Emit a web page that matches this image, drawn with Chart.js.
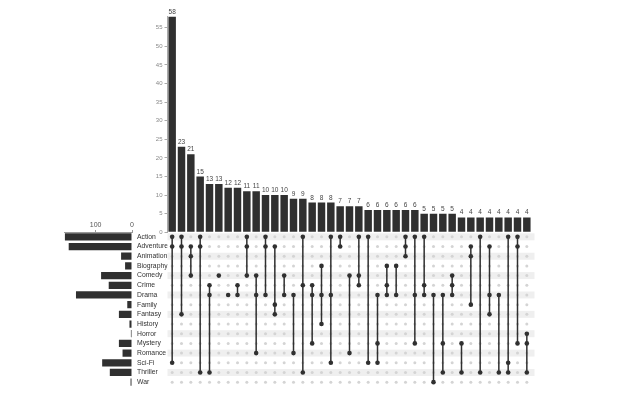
<!DOCTYPE html>
<html><head><meta charset="utf-8">
<script src="https://cdn.jsdelivr.net/npm/chart.js@4/dist/chart.umd.min.js"></script>
<style>
html,body{margin:0;padding:0;background:#fff;}
#wrap{position:relative;width:640px;height:400px;overflow:hidden;background:#fff;}
canvas{position:absolute;}
</style></head><body>
<div id="wrap">
<canvas id="bars" width="410" height="240" style="left:130px;top:0px"></canvas>
<canvas id="matrix" width="404" height="170" style="left:136px;top:225px"></canvas>
<canvas id="sets" width="95" height="180" style="left:40px;top:215px"></canvas>
</div>
<script>
// ---- data ----
const setNames = ["Action","Adventure","Animation","Biography","Comedy","Crime","Drama","Family","Fantasy","History","Horror","Mystery","Romance","Sci-Fi","Thriller","War"];
const setSizes = [185,174,30,19,85,64,154,13,36,7,3,36,26,82,61,4];
const intersectionCounts = [58,23,21,15,13,13,12,12,11,11,10,10,10,9,9,8,8,8,7,7,7,6,6,6,6,6,6,5,5,5,5,4,4,4,4,4,4,4,4];
const intersectionMembers = [
  ["Action","Adventure","Sci-Fi"],
  ["Action","Adventure","Fantasy"],
  ["Adventure","Animation","Comedy"],
  ["Action","Adventure","Thriller"],
  ["Crime","Drama","Thriller"],
  ["Comedy"],
  ["Drama"],
  ["Crime","Drama"],
  ["Action","Adventure","Comedy"],
  ["Comedy","Drama","Romance"],
  ["Action","Adventure","Drama"],
  ["Adventure","Family","Fantasy"],
  ["Comedy","Drama"],
  ["Drama","Romance"],
  ["Action","Crime","Thriller"],
  ["Crime","Drama","Mystery"],
  ["Biography","Drama","History"],
  ["Action","Drama","Sci-Fi"],
  ["Action","Adventure"],
  ["Comedy","Romance"],
  ["Action","Comedy","Crime"],
  ["Action","Sci-Fi"],
  ["Drama","Mystery","Sci-Fi"],
  ["Biography","Crime","Drama"],
  ["Biography","Drama"],
  ["Action","Adventure","Animation"],
  ["Action","Drama","Mystery"],
  ["Action","Crime","Drama"],
  ["Drama","War"],
  ["Drama","Mystery","Thriller"],
  ["Comedy","Crime","Drama"],
  ["Mystery","Thriller"],
  ["Adventure","Animation","Family"],
  ["Action","Thriller"],
  ["Adventure","Drama","Fantasy"],
  ["Drama","Thriller"],
  ["Action","Sci-Fi","Thriller"],
  ["Action","Adventure","Mystery"],
  ["Horror","Mystery","Thriller"]
];
const sizeTicks = [0, 100];

// ---- styles ----
Chart.defaults.font.family = "'Liberation Sans', Arial, sans-serif";
Chart.defaults.animation = false;
const DARK = '#303030';

// ---- intersection bar chart ----
const barLabelPlugin = {
  id: 'barLabels',
  afterDatasetsDraw(chart) {
    const ctx = chart.ctx;
    const meta = chart.getDatasetMeta(0);
    ctx.save();
    ctx.font = "6.5px 'Liberation Sans', Arial, sans-serif";
    ctx.fillStyle = '#444';
    ctx.textAlign = 'center';
    ctx.textBaseline = 'bottom';
    meta.data.forEach((el, i) => {
      ctx.fillText(String(chart.data.datasets[0].data[i]), el.x, el.y - 1.5);
    });
    ctx.restore();
  }
};
new Chart(document.getElementById('bars'), {
  type: 'bar',
  data: {
    labels: intersectionCounts.map((_, i) => 'I' + (i + 1)),
    datasets: [{ data: intersectionCounts, backgroundColor: DARK, barPercentage: 0.8, categoryPercentage: 1 }]
  },
  options: {
    responsive: false,
    layout: { padding: { left: 0, right: 8.5, top: 16.5, bottom: 7.7 } },
    plugins: { legend: { display: false }, tooltip: { enabled: false } },
    scales: {
      x: { display: false },
      y: {
        min: 0, max: 58,
        ticks: { stepSize: 5, includeBounds: false, font: { size: 6 }, color: '#888', padding: 2 },
        grid: { drawOnChartArea: false, tickLength: 3, color: '#aaa' },
        border: { color: '#aaa' },
        afterFit(scale) { scale.width = 37.5; }
      }
    }
  },
  plugins: [barLabelPlugin]
});

// ---- matrix ----
const bandPlugin = {
  id: 'bands',
  beforeDatasetsDraw(chart) {
    const { ctx, chartArea, scales } = chart;
    const y = scales.y;
    const step = Math.abs(y.getPixelForValue(1) - y.getPixelForValue(0));
    const h = step * 0.72;
    ctx.save();
    ctx.fillStyle = '#efefef';
    setNames.forEach((_, i) => {
      if (i % 2 === 0) {
        const py = y.getPixelForValue(i);
        ctx.fillRect(chartArea.left, py - h / 2, chartArea.right - chartArea.left + 3, h);
      }
    });
    ctx.restore();
  }
};
const activePts = [];
const inactivePts = [];
const lineSets = [];
intersectionMembers.forEach((mem, i) => {
  const idx = mem.map(m => setNames.indexOf(m));
  setNames.forEach((_, j) => {
    if (idx.includes(j)) activePts.push({ x: i, y: j });
    else inactivePts.push({ x: i, y: j });
  });
  lineSets.push({
    data: [{ x: i, y: Math.min(...idx) }, { x: i, y: Math.max(...idx) }],
    showLine: true, borderColor: DARK, borderWidth: 1.5, pointRadius: 0
  });
});
new Chart(document.getElementById('matrix'), {
  type: 'scatter',
  data: {
    datasets: [
      { data: activePts, pointRadius: 2.3, backgroundColor: DARK, borderWidth: 0 },
      ...lineSets,
      { data: inactivePts, pointRadius: 1.5, backgroundColor: '#d4d4d4', borderWidth: 0 }
    ]
  },
  options: {
    responsive: false,
    layout: { padding: { left: 1, right: 8.5, top: 7, bottom: 8 } },
    plugins: { legend: { display: false }, tooltip: { enabled: false } },
    scales: {
      x: { type: 'linear', min: -0.5, max: intersectionCounts.length - 0.5, display: false },
      y: {
        type: 'linear', min: -0.5, max: setNames.length - 0.5, reverse: true,
        afterBuildTicks(scale) { scale.ticks = setNames.map((_, i) => ({ value: i })); },
        ticks: { callback: (v) => setNames[v], crossAlign: 'far', font: { size: 6.8 }, color: '#333', padding: 0, autoSkip: false },
        grid: { display: false },
        border: { display: false },
        afterFit(scale) { scale.width = 30.5; }
      }
    }
  },
  plugins: [bandPlugin]
});

// ---- set sizes ----
new Chart(document.getElementById('sets'), {
  type: 'bar',
  data: {
    labels: setNames,
    datasets: [{ data: setSizes, backgroundColor: DARK, barPercentage: 0.75, categoryPercentage: 1 }]
  },
  options: {
    responsive: false,
    indexAxis: 'y',
    layout: { padding: { left: 24.7, right: 3, top: 4, bottom: 8 } },
    plugins: { legend: { display: false }, tooltip: { enabled: false } },
    scales: {
      x: {
        position: 'top', reverse: true, min: 0, max: Math.max(...setSizes),
        afterBuildTicks(scale) { scale.ticks = sizeTicks.map(v => ({ value: v })); },
        ticks: { font: { size: 7 }, color: '#555', padding: 1 },
        grid: { drawOnChartArea: false, tickLength: 2, color: '#999' },
        border: { color: '#999' },
        afterFit(scale) { scale.height = 13; }
      },
      y: { display: false }
    }
  }
});
</script>
</body></html>
